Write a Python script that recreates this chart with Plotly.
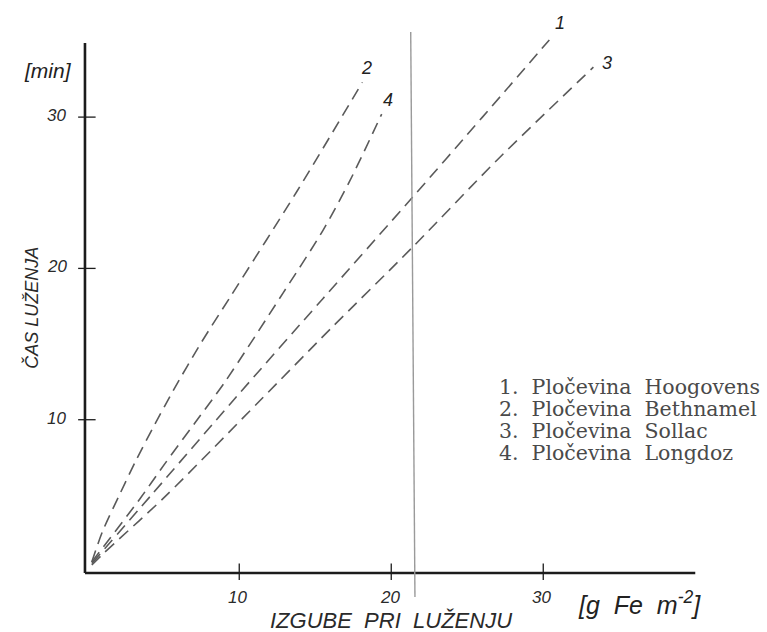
import plotly.graph_objects as go

# Losses during pickling [g Fe m^-2] vs. pickling time [min] for four sheet grades
x_hoogovens = [0.3, 4.2, 9.8, 15.5, 21.4, 26.0, 30.4]
y_hoogovens = [0.5, 5.0, 11.5, 18.0, 24.7, 30.0, 35.1]

x_bethnamel = [0.3, 1.0, 2.15, 3.25, 4.45, 5.64, 7.5, 9.4, 13.8, 18.1]
y_bethnamel = [0.6, 2.6, 5.1, 7.4, 9.7, 11.9, 15.1, 18.1, 25.1, 32.3]

x_sollac = [0.3, 1.0, 5.1, 11.4, 16.0, 21.4, 27.0, 33.3]
y_sollac = [0.4, 1.1, 4.9, 11.3, 16.0, 21.4, 27.2, 33.3]

x_longdoz = [0.3, 3.47, 5.11, 7.09, 9.06, 12.9, 15.5, 17.28, 19.37]
y_longdoz = [0.6, 4.78, 7.1, 9.8, 12.5, 18.4, 22.5, 25.8, 30.2]

tick_values = [10, 20, 30]
tick_labels = ["10", "20", "30"]

curve_numbers = ["1", "2", "3", "4"]
legend_lines = [
    "1.  Pločevina  Hoogovens",
    "2.  Pločevina  Bethnamel",
    "3.  Pločevina  Sollac",
    "4.  Pločevina  Longdoz",
]

INK = "#1c1c1c"
CURVE = "#5a5a5a"
HAND = "Liberation Sans"
SERIF = "DejaVu Serif"

fig = go.Figure()

for xs, ys in [(x_hoogovens, y_hoogovens), (x_bethnamel, y_bethnamel),
               (x_sollac, y_sollac), (x_longdoz, y_longdoz)]:
    fig.add_trace(go.Scatter(
        x=xs, y=ys, mode="lines",
        line=dict(color=CURVE, width=1.6, dash="12px,7px", shape="spline", smoothing=0.8),
        showlegend=False, hoverinfo="skip",
    ))

shapes = []
# axis lines
shapes.append(dict(type="line", xref="x", yref="y", x0=-0.15, y0=-0.13, x1=-0.15, y1=34.9,
                   line=dict(color=INK, width=2.6)))
shapes.append(dict(type="line", xref="x", yref="y", x0=-0.15, y0=-0.13, x1=40.0, y1=-0.13,
                   line=dict(color=INK, width=2.6)))
# cross ticks
for v in tick_values:
    shapes.append(dict(type="line", xref="x", yref="y", x0=v, y0=-0.6, x1=v, y1=0.5,
                       line=dict(color=INK, width=1.3)))
    shapes.append(dict(type="line", xref="x", yref="y", x0=-0.6, y0=v, x1=0.55, y1=v,
                       line=dict(color=INK, width=1.3)))
# thin vertical rule crossing the chart
shapes.append(dict(type="line", xref="x", yref="y", x0=21.28, y0=35.62, x1=21.56, y1=-1.72,
                   line=dict(color="#9a9a9a", width=1.4)))

annotations = []
for v, t in zip(tick_values, tick_labels):
    annotations.append(dict(x=v - 0.1, y=-1.78, xref="x", yref="y", text=f"<i>{t}</i>",
                            showarrow=False, font=dict(family=HAND, size=17, color="#2a2a2a")))
    annotations.append(dict(x=-2.0, y=v + 0.1, xref="x", yref="y", text=f"<i>{t}</i>",
                            showarrow=False, font=dict(family=HAND, size=17, color="#2a2a2a")))

for t, (ax_, ay_) in zip(curve_numbers, [(31.09, 36.2), (18.4, 33.25), (34.2, 33.6), (19.78, 31.1)]):
    annotations.append(dict(x=ax_, y=ay_, xref="x", yref="y", text=f"<i>{t}</i>",
                            showarrow=False, font=dict(family=HAND, size=18, color="#222")))

annotations.append(dict(x=-2.6, y=33.1, xref="x", yref="y", text="<i>[min]</i>",
                        showarrow=False, font=dict(family=HAND, size=21, color="#222")))
annotations.append(dict(x=-3.64, y=17.4, xref="x", yref="y", text="<i>ČAS LUŽENJA</i>",
                        textangle=-90, showarrow=False,
                        font=dict(family=HAND, size=18, color="#2a2a2a")))
annotations.append(dict(x=20.0, y=-3.24, xref="x", yref="y", text="<i>IZGUBE  PRI  LUŽENJU</i>",
                        showarrow=False, font=dict(family=HAND, size=22, color="#2a2a2a")))
annotations.append(dict(x=36.3, y=-2.1, xref="x", yref="y",
                        text="<i>[g  Fe  m<sup>-2</sup>]</i>",
                        showarrow=False, font=dict(family=HAND, size=25, color="#222")))

for i, line in enumerate(legend_lines):
    annotations.append(dict(x=26.95, y=12.15 - 1.45 * i, xref="x", yref="y", text=line,
                            xanchor="left", showarrow=False,
                            font=dict(family=SERIF, size=20.5, color="#4a4a4a")))

fig.update_layout(
    width=767, height=632,
    margin=dict(l=0, r=0, t=0, b=0),
    paper_bgcolor="white", plot_bgcolor="white",
    xaxis=dict(range=[-5.74, 44.72], visible=False, fixedrange=True),
    yaxis=dict(range=[-4.03, 37.74], visible=False, fixedrange=True),
    shapes=shapes, annotations=annotations,
    showlegend=False,
)

fig.write_html("out.html")
